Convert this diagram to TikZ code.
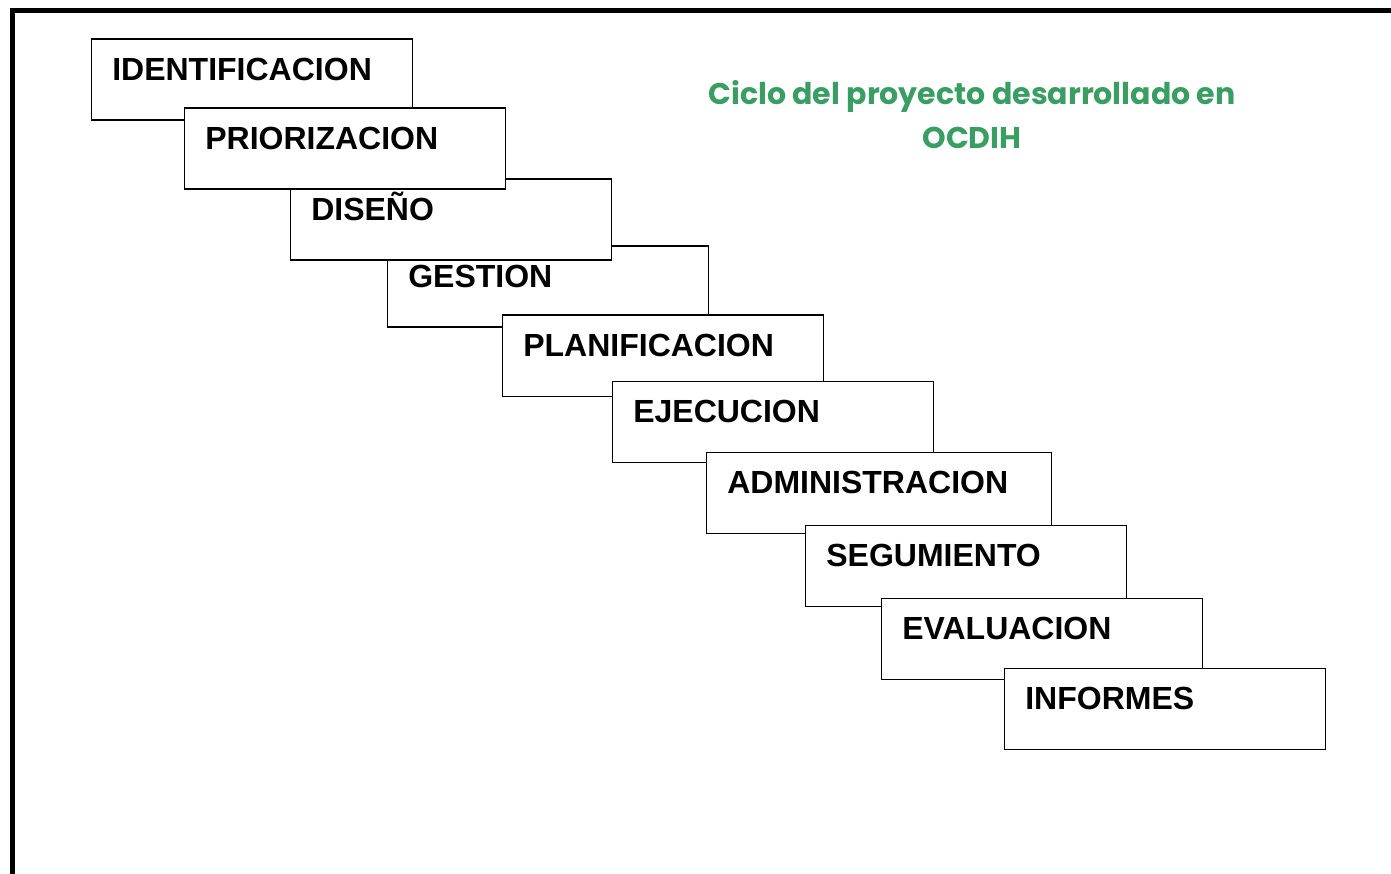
\documentclass[tikz,border=0pt]{standalone}
\usepackage{fontspec}
\setmainfont{Liberation Sans}
\newfontfamily\titlefont{Poppins}
\usepackage{xcolor}
\definecolor{titlegreen}{HTML}{3A9D62}

\begin{document}
\begin{tikzpicture}[x=1pt, y=-1pt,
    stage/.style={rectangle, draw=black, fill=white, line width=1.6pt, anchor=north west,
                  align=left, text width=279pt, inner xsep=21pt, inner ysep=18pt,
                  text height=23pt, text depth=22pt,
                  font=\fontsize{32}{36}\selectfont\bfseries},
    frame/.style={line width=5pt, line join=miter}
]
    \useasboundingbox (0,0) rectangle (1391,874);

    % Outer frame (top and left sides only)
    \draw[frame] (12.5,880) -- (12.5,10.5) -- (1400,10.5);

    % Project stages, drawn in stacking order
    \node[stage] (ident) at (90.5,38.5) {IDENTIFICACION};
    \node[stage] (gest) at (386.5,245.5) {GESTION};
    \node[stage] (dise) at (289.5,178.5) {DISEÑO};
    \node[stage] (prio) at (183.5,107.5) {PRIORIZACION};
    \node[stage] (plan) at (501.5,314.5) {PLANIFICACION};
    \node[stage] (ejec) at (611.5,380.5) {EJECUCION};
    \node[stage, text width=303pt] (admin) at (705.5,451.5) {ADMINISTRACION};
    \node[stage] (segu) at (804.5,524.5) {SEGUMIENTO};
    \node[stage] (eval) at (880.5,597.5) {EVALUACION};
    \node[stage] (info) at (1003.5,667.5) {INFORMES};

    % Title
    \node[align=center, text=titlegreen, font=\titlefont\bfseries\fontsize{30}{44}\selectfont]
        (title) at (972,115) {Ciclo del proyecto desarrollado en\\OCDIH};

\end{tikzpicture}
\end{document}
